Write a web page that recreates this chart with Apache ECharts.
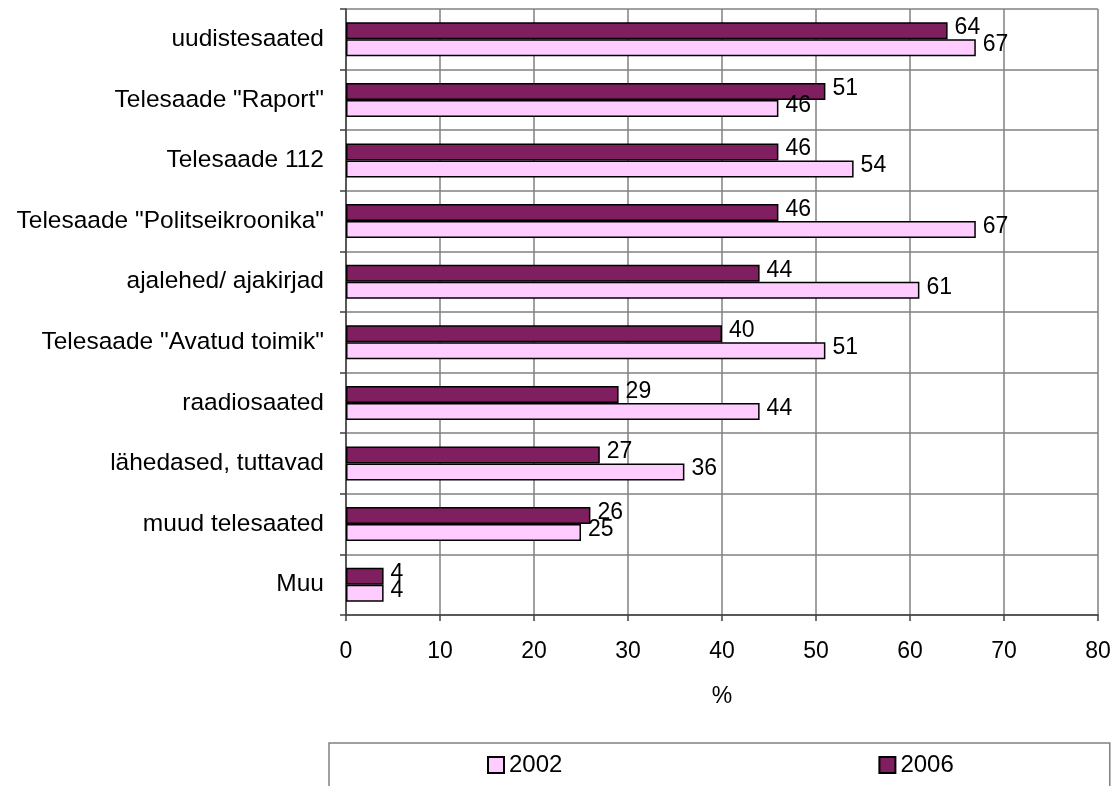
<!DOCTYPE html>
<html>
<head>
<meta charset="utf-8">
<script src="https://cdn.jsdelivr.net/npm/echarts@6/dist/echarts.min.js"></script>
<style>
html,body{margin:0;padding:0;background:#fff;}
#chart{width:1118px;height:786px;}
</style>
</head>
<body>
<div id="chart"></div>
<script>
var categories = ['uudistesaated','Telesaade "Raport"','Telesaade 112','Telesaade "Politseikroonika"','ajalehed/ ajakirjad','Telesaade "Avatud toimik"','raadiosaated','lähedased, tuttavad','muud telesaated','Muu'];
var values2006 = [64, 51, 46, 46, 44, 40, 29, 27, 26, 4];
var values2002 = [67, 46, 54, 67, 61, 51, 44, 36, 25, 4];
var xTicks = [0, 10, 20, 30, 40, 50, 60, 70, 80];

var FONT = 'Liberation Sans, Arial, sans-serif';
var chart = echarts.init(document.getElementById('chart'), null, {renderer:'canvas'});
chart.setOption({
  animation:false,
  backgroundColor:'#ffffff',
  textStyle:{fontFamily:FONT},
  grid:{left:346, right:20, top:9, bottom:171, containLabel:false},
  legend:{
    data:['2002','2006'],
    left:329, top:743,
    orient:'horizontal',
    icon:'rect', itemWidth:16, itemHeight:16,
    itemGap:316,
    padding:[10,156,40,158],
    borderColor:'#808080', borderWidth:1.5,
    textStyle:{fontSize:24, color:'#000', fontFamily:FONT}
  },
  xAxis:{
    type:'value', min:xTicks[0], max:xTicks[xTicks.length-1], interval:10,
    name:'%', nameLocation:'middle', nameGap:70,
    nameTextStyle:{fontSize:23, color:'#000', fontFamily:FONT},
    axisLine:{show:true, lineStyle:{color:'#404040', width:1.5}},
    axisTick:{show:true, length:6, lineStyle:{color:'#404040', width:1.5}},
    axisLabel:{fontSize:23, color:'#000', margin:25, fontFamily:FONT},
    splitLine:{show:true, lineStyle:{color:'#808080', width:1.5}}
  },
  yAxis:{
    type:'category', data:categories, inverse:true,
    axisLine:{show:true, onZero:false, lineStyle:{color:'#404040', width:1.5}},
    axisTick:{show:true, length:6, lineStyle:{color:'#404040', width:1.5}},
    axisLabel:{fontSize:24.5, color:'#000', margin:22, fontFamily:FONT},
    splitLine:{show:true, lineStyle:{color:'#808080', width:1.5}}
  },
  series:[
    {
      name:'2006', type:'bar', data:values2006,
      barWidth:17, barGap:'0%',
      itemStyle:{color:'#801f60', borderColor:'#000', borderWidth:1.5},
      label:{show:true, position:'right', distance:7, offset:[0,-3], fontSize:23, color:'#000', fontFamily:FONT}
    },
    {
      name:'2002', type:'bar', data:values2002,
      barWidth:17, barGap:'0%',
      itemStyle:{color:'#ffccff', borderColor:'#000', borderWidth:1.5},
      label:{show:true, position:'right', distance:7, offset:[0,-3], fontSize:23, color:'#000', fontFamily:FONT}
    }
  ]
});
</script>
</body>
</html>
